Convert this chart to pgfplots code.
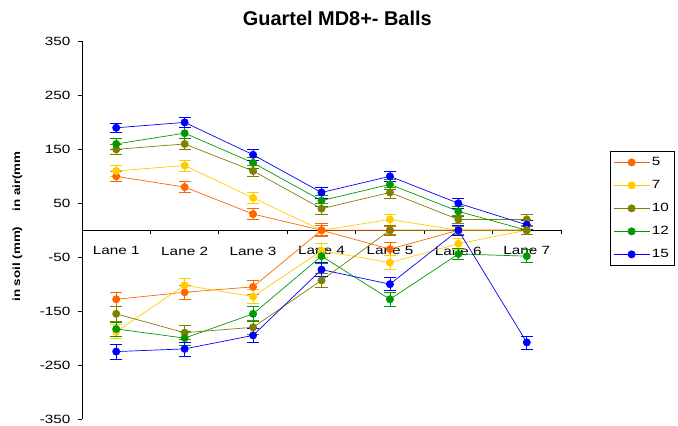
\documentclass[border=0pt]{standalone}
\usepackage{fontspec}
\setmainfont[FakeStretch=1.28]{Liberation Sans}
\newfontfamily\titlefont{Liberation Sans}
\usepackage{pgfplots}
\pgfplotsset{compat=1.18}

\definecolor{c5}{HTML}{FF6600}
\definecolor{c7}{HTML}{FFCC00}
\definecolor{c10}{HTML}{808000}
\definecolor{c12}{HTML}{009900}
\definecolor{c15}{HTML}{0000FF}

\pgfplotsset{
  ser/.style={color=#1, line width=0.7pt, mark=*, mark size=3.6bp,
    mark options={solid, fill=#1},
    error bars/y dir=both, error bars/y explicit,
    error bars/error bar style={line width=0.7pt, color=#1},
    error bars/error mark options={rotate=90, mark size=6bp, line width=0.7pt, color=#1}},
}

\begin{document}
\begin{tikzpicture}
\begin{axis}[
  scale only axis,
  width=479bp, height=377.5bp,
  xmin=0.5, xmax=7.5, ymin=-350, ymax=350,
  axis x line=middle, axis y line=left,
  axis line style={-, line width=0.8pt, black},
  hide obscured x ticks=false, hide obscured y ticks=false,
  xtick={1,...,7},
  xticklabels={Lane 1,Lane 2,Lane 3,Lane 4,Lane 5,Lane 6,Lane 7},
  major x tick style={draw=none},
  minor xtick={1.5,2.5,3.5,4.5,5.5,6.5,7.5},
  ytick={-350,-250,-150,-50,50,150,250,350},
  tick align=outside,
  tick style={black, line width=0.8pt},
  major tick length=4bp, minor tick length=4bp,
  ticklabel style={font=\fontsize{12}{14}\selectfont},
  xticklabel style={anchor=north, yshift=-9bp},
  yticklabel style={xshift=-4bp},
  /pgf/number format/assume math mode=true,
  title={\titlefont\bfseries\fontsize{20}{22}\selectfont Guartel MD8+- Balls},
  title style={at={(axis description cs:0.533,1)}, anchor=base, yshift=9.8bp},
  ylabel={\bfseries\fontsize{10.5}{12}\selectfont in soil (mm)\hspace{15bp}in air(mm},
  ylabel style={at={(axis description cs:-0.135,0.51)}, anchor=center, rotate=0},
  legend style={at={(axis description cs:1.102,0.71)}, anchor=north west,
    draw=black, line width=0.8pt, inner xsep=3bp, inner ysep=3bp,
    font=\fontsize{12}{14}\selectfont, row sep=7bp,
    nodes={inner sep=2bp, text height=9bp, text depth=3bp, anchor=west}},
  legend cell align=left,
  legend image code/.code={
    \draw[mark repeat=2, mark phase=2] plot coordinates {(0bp,0bp) (18bp,0bp) (36bp,0bp)};},
]
% in air (upper) series
\addplot[ser=c5] coordinates {(1,100)+-(0,10) (2,80)+-(0,10) (3,30)+-(0,10) (4,0)+-(0,12) (5,-35)+-(0,12) (6,0)+-(0,8) (7,0)+-(0,8)};
\addplot[ser=c7] coordinates {(1,110)+-(0,10) (2,120)+-(0,10) (3,60)+-(0,10) (4,0)+-(0,10) (5,20)+-(0,10) (6,0)+-(0,8) (7,0)+-(0,8)};
\addplot[ser=c10] coordinates {(1,150)+-(0,10) (2,160)+-(0,10) (3,110)+-(0,10) (4,40)+-(0,10) (5,70)+-(0,10) (6,20)+-(0,8) (7,20)+-(0,10)};
\addplot[ser=c12] coordinates {(1,160)+-(0,10) (2,180)+-(0,10) (3,125)+-(0,10) (4,55)+-(0,10) (5,85)+-(0,10) (6,35)+-(0,10) (7,0)+-(0,8)};
\addplot[ser=c15] coordinates {(1,190)+-(0,9) (2,200)+-(0,10) (3,140)+-(0,10) (4,70)+-(0,10) (5,100)+-(0,10) (6,50)+-(0,10) (7,10)+-(0,8)};
\legend{5,7,10,12,15}
% in soil (lower) series
\addplot[ser=c5, forget plot] coordinates {(1,-128)+-(0,13) (2,-115)+-(0,13) (3,-105)+-(0,13) (4,0)+-(0,10) (5,0)+-(0,8) (6,0)+-(0,8) (7,0)+-(0,8)};
\addplot[ser=c7, forget plot] coordinates {(1,-188)+-(0,13) (2,-102)+-(0,13) (3,-123)+-(0,13) (4,-38)+-(0,13) (5,-60)+-(0,13) (6,-25)+-(0,10) (7,0)+-(0,8)};
\addplot[ser=c10, forget plot] coordinates {(1,-155)+-(0,13) (2,-190)+-(0,13) (3,-180)+-(0,13) (4,-93)+-(0,13) (5,0)+-(0,10) (6,0)+-(0,8) (7,0)+-(0,8)};
\addplot[ser=c12, forget plot] coordinates {(1,-183)+-(0,13) (2,-200)+-(0,13) (3,-155)+-(0,13) (4,-48)+-(0,13) (5,-128)+-(0,13) (6,-44)+-(0,10) (7,-48)+-(0,12)};
\addplot[ser=c15, forget plot] coordinates {(1,-225)+-(0,14) (2,-220)+-(0,13) (3,-195)+-(0,13) (4,-73)+-(0,13) (5,-100)+-(0,12) (6,0)+-(0,10) (7,-208)+-(0,12)};
\end{axis}
\pgfresetboundingbox
\path[use as bounding box] (-82bp,-7bp) rectangle (596bp,419bp);
\end{tikzpicture}
\end{document}
